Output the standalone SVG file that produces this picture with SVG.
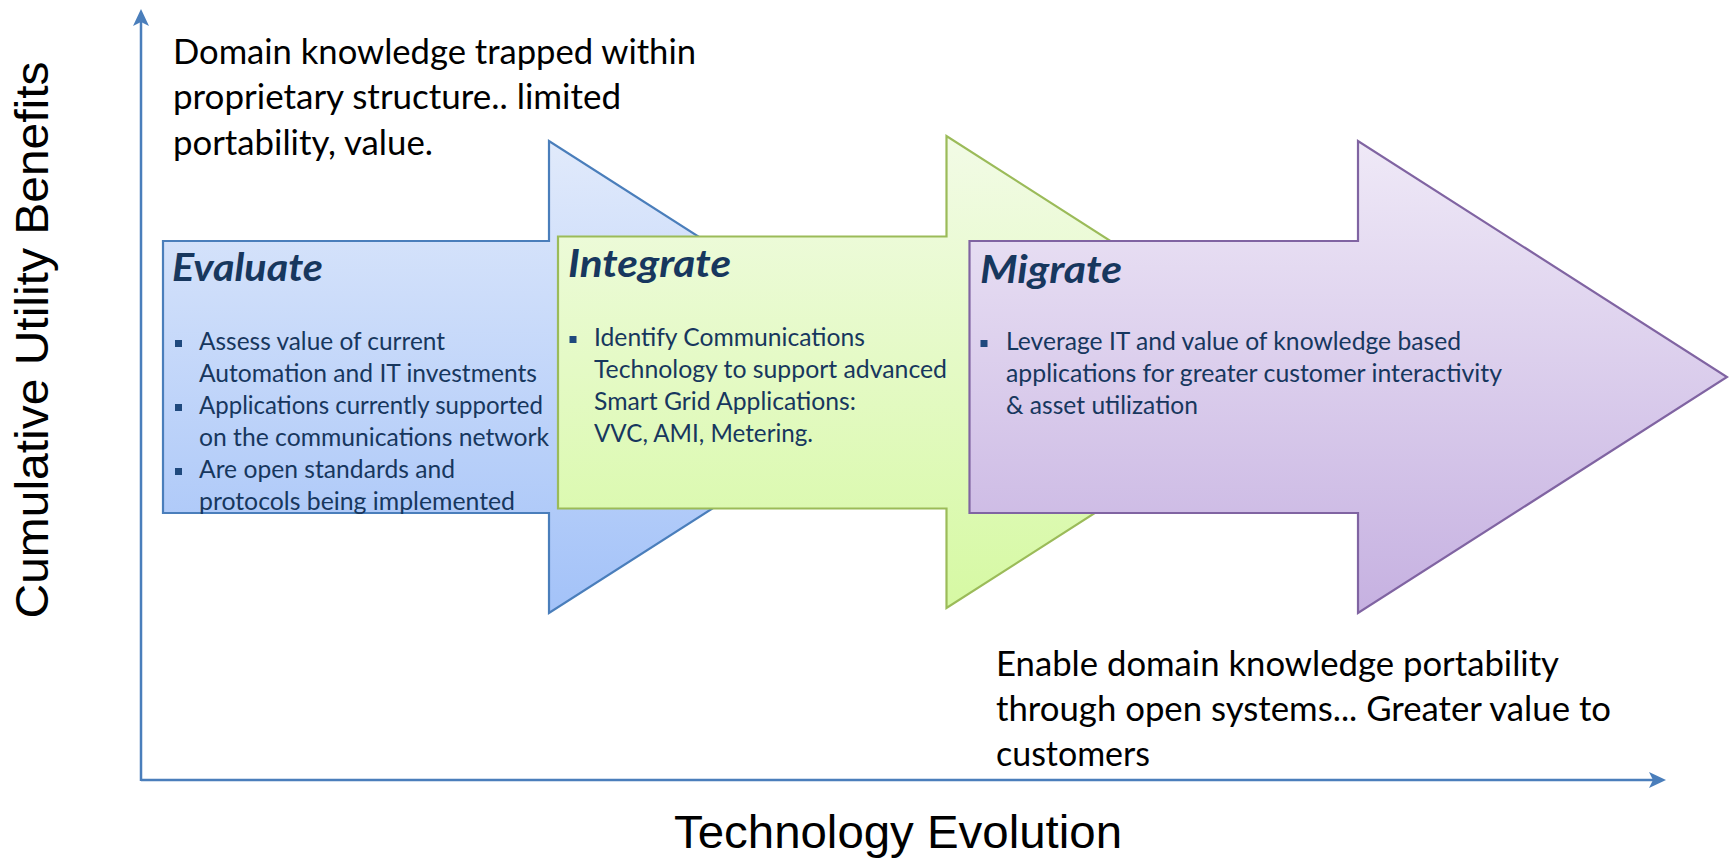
<svg xmlns="http://www.w3.org/2000/svg" width="1729" height="862" viewBox="0 0 1729 862">
  <style>
    .note { font-family: Lato, "Liberation Sans", sans-serif; font-size: 34.5px; fill: #000000; }
    .axis-label { font-family: "Liberation Sans", Arial, sans-serif; font-size: 47px; fill: #000000; }
    .head { font-family: Lato, "Liberation Sans", sans-serif; font-size: 39px; font-weight: bold; font-style: italic; fill: #17375e; }
    .item { font-family: Lato, "Liberation Sans", sans-serif; font-size: 24.5px; fill: #17375e; }
    .bullet { fill: #1f497d; }
    .axis { stroke: #4a7ebb; stroke-width: 2.5; fill: none; }
    .axis-tip { fill: #4a7ebb; }
    .shape { stroke-width: 2.2; stroke-linejoin: miter; }
  </style>
  <defs>
    <linearGradient id="gBlue" x1="0" y1="0" x2="0" y2="1">
      <stop offset="0" stop-color="#e1eafb"/>
      <stop offset="1" stop-color="#a3c2f8"/>
    </linearGradient>
    <linearGradient id="gGreen" x1="0" y1="0" x2="0" y2="1">
      <stop offset="0" stop-color="#f2fbe6"/>
      <stop offset="1" stop-color="#d6f9a3"/>
    </linearGradient>
    <linearGradient id="gPurple" x1="0" y1="0" x2="0" y2="1">
      <stop offset="0" stop-color="#efe9f7"/>
      <stop offset="1" stop-color="#c6b1e1"/>
    </linearGradient>
  </defs>

  <rect x="0" y="0" width="1729" height="862" fill="#ffffff"/>

  <!-- connectors: chart axes -->
  <g id="connectors">
    <line class="axis" x1="141" y1="781" x2="141" y2="22"/>
    <path class="axis-tip" d="M141,9 L149,26 L141,22 L133,26 Z"/>
    <line class="axis" x1="141" y1="780" x2="1653" y2="780"/>
    <path class="axis-tip" d="M1666,780 L1649,788 L1653,780 L1649,772 Z"/>
  </g>

  <g id="y-axis-label">
    <text class="axis-label" transform="translate(48,340) rotate(-90)" text-anchor="middle" textLength="557" lengthAdjust="spacingAndGlyphs">Cumulative Utility Benefits</text>
  </g>
  <g id="x-axis-label">
    <text class="axis-label" x="674" y="848" textLength="448" lengthAdjust="spacingAndGlyphs">Technology Evolution</text>
  </g>

  <g id="note-top">
    <text class="note" x="173" y="64" textLength="523" lengthAdjust="spacingAndGlyphs">Domain knowledge trapped within</text>
    <text class="note" x="173" y="109" textLength="448" lengthAdjust="spacingAndGlyphs">proprietary structure.. limited</text>
    <text class="note" x="173" y="155" textLength="260" lengthAdjust="spacingAndGlyphs">portability, value.</text>
  </g>

  <g id="evaluate">
    <path class="shape" fill="url(#gBlue)" stroke="#4a7ebb" d="M163,241 H549 V141 L918,377 L549,613 V513 H163 Z"/>
    <text class="head" x="172" y="281" textLength="151" lengthAdjust="spacingAndGlyphs">Evaluate</text>
    <rect class="bullet" x="175" y="340" width="7" height="7"/>
    <text class="item" x="199" y="350" textLength="246" lengthAdjust="spacingAndGlyphs">Assess value of current</text>
    <text class="item" x="199" y="382" textLength="338" lengthAdjust="spacingAndGlyphs">Automation and IT investments</text>
    <rect class="bullet" x="175" y="404" width="7" height="7"/>
    <text class="item" x="199" y="414" textLength="344" lengthAdjust="spacingAndGlyphs">Applications currently supported</text>
    <text class="item" x="199" y="446" textLength="350" lengthAdjust="spacingAndGlyphs">on the communications network</text>
    <rect class="bullet" x="175" y="468" width="7" height="7"/>
    <text class="item" x="199" y="478" textLength="256" lengthAdjust="spacingAndGlyphs">Are open standards and</text>
    <text class="item" x="199" y="510" textLength="316" lengthAdjust="spacingAndGlyphs">protocols being implemented</text>
  </g>

  <g id="integrate">
    <path class="shape" fill="url(#gGreen)" stroke="#9bbb59" d="M558,236.5 H946.5 V136 L1315,372 L946.5,608 V508.5 H558 Z"/>
    <text class="head" x="568" y="277" textLength="163" lengthAdjust="spacingAndGlyphs">Integrate</text>
    <rect class="bullet" x="569.5" y="336" width="7" height="7"/>
    <text class="item" x="594" y="346" textLength="271" lengthAdjust="spacingAndGlyphs">Identify Communications</text>
    <text class="item" x="594" y="378" textLength="353" lengthAdjust="spacingAndGlyphs">Technology to support advanced</text>
    <text class="item" x="594" y="410" textLength="262" lengthAdjust="spacingAndGlyphs">Smart Grid Applications:</text>
    <text class="item" x="594" y="442" textLength="219" lengthAdjust="spacingAndGlyphs">VVC, AMI, Metering.</text>
  </g>

  <g id="migrate">
    <path class="shape" fill="url(#gPurple)" stroke="#8064a2" d="M969.5,241 H1358 V141 L1727,377 L1358,613 V513 H969.5 Z"/>
    <text class="head" x="980" y="283" textLength="142" lengthAdjust="spacingAndGlyphs">Migrate</text>
    <rect class="bullet" x="980.5" y="340" width="7" height="7"/>
    <text class="item" x="1006" y="350" textLength="455" lengthAdjust="spacingAndGlyphs">Leverage IT and value of knowledge based</text>
    <text class="item" x="1006" y="382" textLength="496" lengthAdjust="spacingAndGlyphs">applications for greater customer interactivity</text>
    <text class="item" x="1006" y="414" textLength="192" lengthAdjust="spacingAndGlyphs">&amp; asset utilization</text>
  </g>

  <g id="note-bottom">
    <text class="note" x="996" y="676" textLength="563" lengthAdjust="spacingAndGlyphs">Enable domain knowledge portability</text>
    <text class="note" x="996" y="721" textLength="615" lengthAdjust="spacingAndGlyphs">through open systems... Greater value to</text>
    <text class="note" x="996" y="766" textLength="154" lengthAdjust="spacingAndGlyphs">customers</text>
  </g>
</svg>
